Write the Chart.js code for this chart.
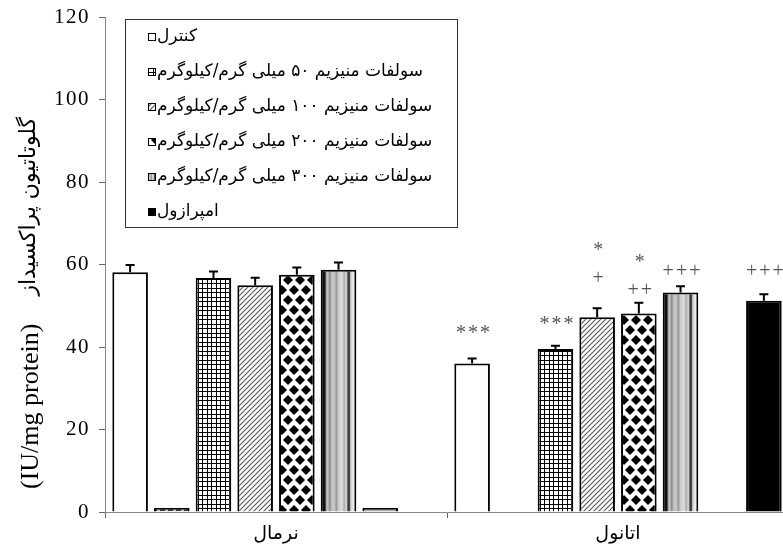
<!DOCTYPE html>
<html>
<head>
<meta charset="utf-8">
<script src="https://cdn.jsdelivr.net/npm/chart.js@4.4.1/dist/chart.umd.min.js"></script>
<style>
  html, body { margin: 0; padding: 0; background: #fff; overflow: hidden; width: 783px; height: 548px; }
  #wrap { position: relative; width: 795px; height: 548px; }
</style>
</head>
<body>
<div id="wrap"><canvas id="chart" width="795" height="548"></canvas></div>
<script>
// ---- data ----------------------------------------------------------------
const groups = ['نرمال', 'اتانول'];
const yTicks = [0, 20, 40, 60, 80, 100, 120];

const seriesNames = [
  'کنترل',
  '',
  'سولفات منیزیم ۵۰ میلی گرم/کیلوگرم',
  'سولفات منیزیم ۱۰۰ میلی گرم/کیلوگرم',
  'سولفات منیزیم ۲۰۰ میلی گرم/کیلوگرم',
  'سولفات منیزیم ۳۰۰ میلی گرم/کیلوگرم',
  '',
  'امپرازول'
];

const controlMean    = [58.1, 36.0];
const controlSE      = [1.8, 1.2];
const blankAMean     = [1.0, null];
const blankASE       = [0, 0];
const mg50Mean       = [56.7, 39.5];
const mg50SE         = [1.6, 0.8];
const mg100Mean      = [55.0, 47.2];
const mg100SE        = [1.8, 2.2];
const mg200Mean      = [57.5, 48.1];
const mg200SE        = [1.8, 2.6];
const mg300Mean      = [58.7, 53.2];
const mg300SE        = [1.8, 1.5];
const blankBMean     = [1.0, null];
const blankBSE       = [0, 0];
const omeprazoleMean = [null, 51.2];
const omeprazoleSE   = [0, 1.6];

// significance marks (per series, per group)
const starMarks = [['', '***'], ['', ''], ['', '***'], ['', '*'], ['', '*'], ['', ''], ['', ''], ['', '']];
const plusMarks = [['', ''], ['', ''], ['', ''], ['', '+'], ['', '++'], ['', '+++'], ['', ''], ['', '+++']];

// ---- fills ---------------------------------------------------------------
function tile(w, h, paint) {
  const c = document.createElement('canvas');
  c.width = w; c.height = h;
  const g = c.getContext('2d');
  g.fillStyle = '#fff'; g.fillRect(0, 0, w, h);
  paint(g, w, h);
  return document.createElement('canvas').getContext('2d').createPattern(c, 'repeat');
}
const gridFill = tile(9, 9, (g) => {
  g.fillStyle = '#000';
  g.fillRect(0, 0, 9, 1); g.fillRect(0, 4, 9, 1);
  g.fillRect(0, 0, 1, 9); g.fillRect(4, 0, 1, 9);
});
const hatchFill = tile(5, 5, (g) => {
  g.strokeStyle = '#555'; g.lineWidth = 1.1;
  g.beginPath();
  g.moveTo(-1, 6); g.lineTo(6, -1);
  g.moveTo(-1, 1); g.lineTo(1, -1);
  g.moveTo(4, 6); g.lineTo(6, 4);
  g.stroke();
});
const diamondFill = tile(12, 20, (g) => {
  g.fillStyle = '#000';
  const pts = [[0, 0], [12, 0], [0, 20], [12, 20], [6, 10]];
  for (const [cx, cy] of pts) {
    g.beginPath();
    g.moveTo(cx - 5, cy); g.lineTo(cx, cy - 5); g.lineTo(cx + 5, cy); g.lineTo(cx, cy + 5);
    g.closePath(); g.fill();
  }
});
const dashFill = tile(8, 4, (g) => {
  g.fillStyle = '#c8c8c8'; g.fillRect(0, 0, 8, 4);
  g.fillStyle = '#333'; g.fillRect(0, 1, 5, 2);
});
const stripeStops = [
  [0.00, '#0a0a0a'], [0.12, '#111'], [0.15, '#999'], [0.20, '#ccc'], [0.25, '#888'],
  [0.30, '#bbb'], [0.37, '#ccc'], [0.44, '#999'], [0.50, '#ccc'], [0.60, '#ddd'],
  [0.66, '#aaa'], [0.72, '#ddd'], [0.76, '#555'], [0.80, '#222'], [0.84, '#ccc'],
  [0.92, '#eee'], [1.00, '#ddd']
];
function stripeGradient(ctx, left, width) {
  const gr = ctx.createLinearGradient(left, 0, left + width, 0);
  for (const [p, c] of stripeStops) gr.addColorStop(p, c);
  return gr;
}

const series = [
  { data: controlMean,    err: controlSE,    fill: '#fff' },
  { data: blankAMean,     err: blankASE,     fill: dashFill },
  { data: mg50Mean,       err: mg50SE,       fill: gridFill },
  { data: mg100Mean,      err: mg100SE,      fill: hatchFill },
  { data: mg200Mean,      err: mg200SE,      fill: diamondFill },
  { data: mg300Mean,      err: mg300SE,      fill: '#bbb', stripe: true },
  { data: blankBMean,     err: blankBSE,     fill: '#aaa' },
  { data: omeprazoleMean, err: omeprazoleSE, fill: '#000' }
];

const datasets = series.map((s, i) => ({
  label: seriesNames[i],
  data: s.data,
  errors: s.err,
  stripe: !!s.stripe,
  backgroundColor: s.fill,
  borderColor: '#000',
  borderWidth: 2,
  categoryPercentage: 0.975,
  barPercentage: 0.854
}));

// ---- plugins -------------------------------------------------------------
const stripePlugin = {
  id: 'stripes',
  afterDatasetsUpdate(chart) {
    chart.data.datasets.forEach((ds, i) => {
      if (!ds.stripe) return;
      chart.getDatasetMeta(i).data.forEach((el) => {
        const left = el.x - el.width / 2;
        el.options = Object.assign({}, el.options, { backgroundColor: stripeGradient(chart.ctx, left, el.width) });
      });
    });
  }
};

// value-axis numerals are drawn slightly spaced; the category axis is drawn
// after the bars (z: 1), so the spacing is switched off before that.
const tickSpacingPlugin = {
  id: 'tickSpacing',
  beforeDraw(chart) { chart.ctx.letterSpacing = '1.5px'; },
  beforeDatasetsDraw(chart) { chart.ctx.letterSpacing = '0px'; }
};

const errorBarPlugin = {
  id: 'errorBars',
  afterDatasetsDraw(chart) {
    const { ctx } = chart;
    const y = chart.scales.y;
    ctx.save();
    ctx.strokeStyle = '#000';
    ctx.lineWidth = 2;
    chart.data.datasets.forEach((ds, i) => {
      chart.getDatasetMeta(i).data.forEach((el, j) => {
        const v = ds.data[j], e = ds.errors[j];
        if (v == null || !e) return;
        const top = y.getPixelForValue(v + e);
        ctx.beginPath();
        ctx.moveTo(el.x, el.y); ctx.lineTo(el.x, top);
        ctx.moveTo(el.x - 4.5, top); ctx.lineTo(el.x + 4.5, top);
        ctx.stroke();
      });
    });
    ctx.restore();
  }
};

// pixel gaps between the top of the error bar and each mark
const starGap = [31, 0, 27, 63, 46, 0, 0, 0];
const plusGap = [0, 0, 0, 29, 12, 15, 0, 22];

const marksPlugin = {
  id: 'sigMarks',
  afterDatasetsDraw(chart) {
    const { ctx } = chart;
    const y = chart.scales.y;
    ctx.save();
    ctx.fillStyle = '#555';
    ctx.textAlign = 'center';
    ctx.textBaseline = 'middle';
    ctx.font = '20px "Liberation Serif"';
    ctx.letterSpacing = '2px';
    chart.data.datasets.forEach((ds, i) => {
      chart.getDatasetMeta(i).data.forEach((el, j) => {
        const v = ds.data[j];
        if (v == null) return;
        const top = y.getPixelForValue(v + (ds.errors[j] || 0));
        if (starMarks[i][j]) ctx.fillText(starMarks[i][j], el.x + 2, top - starGap[i] + 6);
        if (plusMarks[i][j]) ctx.fillText(plusMarks[i][j], el.x + 2, top - plusGap[i]);
      });
    });
    ctx.restore();
  }
};

const legendPlugin = {
  id: 'boxLegend',
  afterDraw(chart) {
    const { ctx } = chart;
    ctx.save();
    ctx.letterSpacing = '0px';
    const L = 125, T = 19, R = 458, B = 228;
    ctx.fillStyle = '#fff';
    ctx.fillRect(L, T, R - L, B - T);
    ctx.strokeStyle = '#333';
    ctx.lineWidth = 1;
    ctx.strokeRect(L + 0.5, T + 0.5, R - L - 1, B - T - 1);
    ctx.font = '17px "DejaVu Sans"';
    ctx.textBaseline = 'middle';
    ctx.textAlign = 'left';
    ctx.direction = 'rtl';
    let row = 0;
    chart.data.datasets.forEach((ds) => {
      if (!ds.label) return;
      const cy = 37 + row * 35;
      const bx = 148, bs = 8;
      ctx.fillStyle = ds.stripe ? stripeGradient(ctx, bx, bs) : ds.backgroundColor;
      ctx.fillRect(bx, cy - bs / 2, bs, bs);
      ctx.strokeStyle = '#000';
      ctx.strokeRect(bx + 0.5, cy - bs / 2 + 0.5, bs - 1, bs - 1);
      ctx.fillStyle = '#000';
      ctx.fillText(ds.label, bx + bs + 1, cy);
      row++;
    });
    ctx.restore();
  }
};

const yTitlePlugin = {
  id: 'yTitle',
  afterDraw(chart) {
    const { ctx } = chart;
    ctx.save();
    ctx.letterSpacing = '0px';
    ctx.translate(31, 304);
    ctx.rotate(-Math.PI / 2);
    ctx.fillStyle = '#000';
    ctx.textBaseline = 'middle';
    ctx.textAlign = 'left';
    ctx.font = '26px "Liberation Serif"';
    ctx.fillText('(IU/mg protein)', -185, 0);
    ctx.textAlign = 'right';
    ctx.direction = 'rtl';
    ctx.font = '22px "DejaVu Sans"';
    ctx.fillText('گلوتاتیون پراکسیداز', 187, -2);
    ctx.restore();
  }
};

// ---- chart ---------------------------------------------------------------
new Chart(document.getElementById('chart'), {
  type: 'bar',
  data: { labels: groups, datasets },
  options: {
    responsive: false,
    animation: false,
    events: [],
    layout: { padding: { left: 0, right: 6, top: 17, bottom: 0 } },
    plugins: { legend: { display: false }, tooltip: { enabled: false } },
    scales: {
      x: {
        z: 1,
        offset: true,
        grid: { display: true, drawOnChartArea: false, offset: true, tickLength: 6, color: '#666' },
        border: { display: true, color: '#888', width: 1 },
        ticks: { color: '#000', font: { family: 'DejaVu Sans', size: 19 }, padding: 5 },
        afterFit: (s) => { s.height = 36; }
      },
      y: {
        min: 0, max: 120,
        afterBuildTicks: (s) => { s.ticks = yTicks.map((v) => ({ value: v })); },
        grid: { display: true, drawOnChartArea: false, tickLength: 6, color: '#666' },
        border: { display: true, color: '#888', width: 1 },
        ticks: { color: '#000', font: { family: 'Liberation Serif', size: 21, lineHeight: 0.7 }, padding: 9 },
        afterFit: (s) => { s.width = 105; }
      }
    }
  },
  plugins: [tickSpacingPlugin, stripePlugin, errorBarPlugin, marksPlugin, legendPlugin, yTitlePlugin]
});
</script>
</body>
</html>
